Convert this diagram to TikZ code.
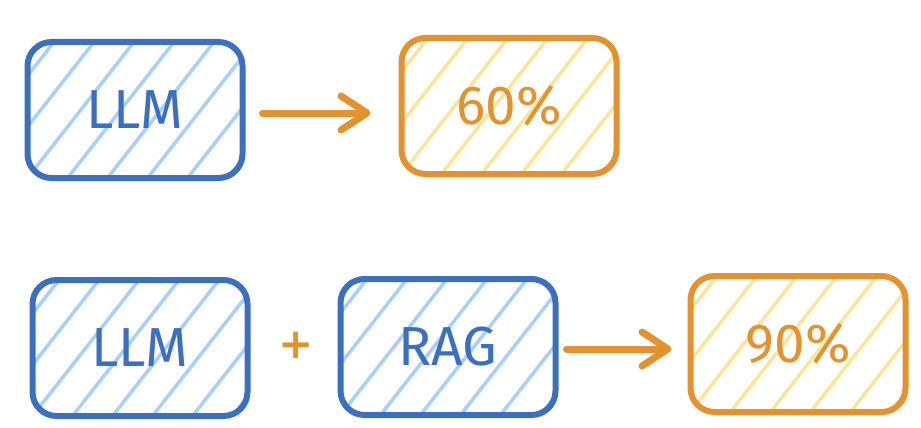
\documentclass[tikz,border=0pt]{standalone}
\usepackage{fontspec}
\setmainfont{Fira Sans}
\newfontfamily\plusfont{DejaVu Sans}
\usetikzlibrary{arrows.meta}
\definecolor{bstroke}{HTML}{3D6FBF}
\definecolor{bhatch}{HTML}{A8D0FA}
\definecolor{ostroke}{HTML}{E2922F}
\definecolor{ohatch}{HTML}{FAE59A}
\tikzset{
  hatchlines/.style={
    path picture={
      \foreach \i in {-5,...,8}
        \draw[#1,line width=3.5pt]
          ([xshift=\i*40pt]path picture bounding box.south west) -- ++(130pt,166pt);
    }},
  box/.style={draw=#1, line width=6pt, rounded corners=24pt,
    minimum width=215pt, minimum height=136pt, text=#1,
    font=\fontsize{55}{60}\selectfont},
  bluebox/.style={box=bstroke, hatchlines=bhatch},
  orangebox/.style={box=ostroke, hatchlines=ohatch},
  arr/.style={draw=ostroke, line width=7pt, line cap=round,
    -{Straight Barb[length=26pt,width=34pt,round]}},
  plussign/.style={text=ostroke, font=\plusfont\bfseries\fontsize{42}{48}\selectfont},
}
\begin{document}
\begin{tikzpicture}[x=1pt,y=-1pt]
\useasboundingbox (0,0) rectangle (921,428);
\node[bluebox] (llm1) at (135,110) {LLM};
\node[orangebox] (p60) at (509,106) {60\%};
\node[bluebox] (llm2) at (140,348) {LLM};
\node[plussign] (plus) at (296,345) {+};
\node[bluebox] (rag) at (448,347) {RAG};
\node[orangebox] (p90) at (798,344) {90\%};
\draw[arr] ([shift={(17,3)}]llm1.east) -- ([shift={(-28,7)}]p60.west);
\draw[arr] ([shift={(8,2)}]rag.east) -- ([shift={(-16,5)}]p90.west);
\end{tikzpicture}
\end{document}
